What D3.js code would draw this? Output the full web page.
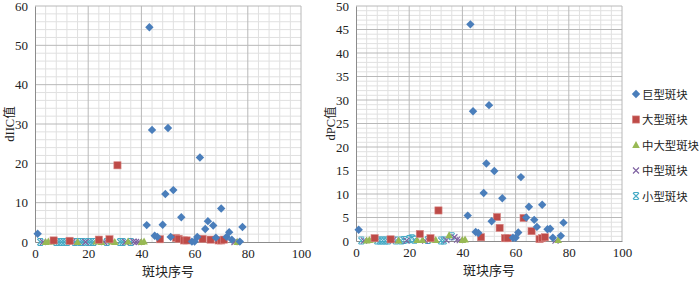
<!DOCTYPE html>
<html>
<head>
<meta charset="utf-8">
<script src="https://cdn.jsdelivr.net/npm/d3@7/dist/d3.min.js"></script>
<style>
  body { margin: 0; background: #fff; }
  svg text { font-family: "Liberation Serif", "Noto Sans CJK SC", serif; fill: #222; }
  .cjk { font-family: "Noto Sans CJK SC", sans-serif; }
</style>
</head>
<body>
<div id="chart"></div>
<script>
// Data: patch id -> value, per patch class
const seriesNames = ['巨型斑块', '大型斑块', '中大型斑块', '中型斑块', '小型斑块']

const giantIds = [1, 42, 43, 44, 45, 46, 48, 49, 50, 51, 52, 55, 59, 60, 61, 62, 64, 65, 67, 68, 70, 72, 73, 74, 77, 78]
const giantIIC = [2.1, 4.3, 54.6, 28.5, 1.6, 1.3, 4.4, 12.2, 29.0, 1.3, 13.2, 6.3, 0.1, 0.1, 1.3, 21.5, 3.3, 5.3, 4.2, 1.1, 8.5, 1.3, 2.5, 0.6, 0.1, 3.8]
const giantPC = [2.4, 5.4, 46.1, 27.6, 1.9, 1.7, 10.2, 16.5, 28.9, 4.2, 14.9, 9.1, 0.7, 0.7, 1.8, 13.6, 5.0, 7.3, 4.5, 3.0, 7.7, 2.5, 2.6, 0.7, 1.1, 3.9]

const largeIds = [7, 13, 24, 28, 31, 47, 53, 54, 56, 57, 63, 66, 69, 70, 71]
const largeIIC = [0.4, 0.3, 0.6, 0.7, 19.5, 0.7, 1.0, 0.8, 0.4, 0.4, 0.8, 0.6, 0.4, 0.4, 0.6]
const largePC = [0.6, 0.35, 1.5, 0.6, 6.5, 0.8, 5.1, 2.8, 0.6, 0.6, 4.9, 2.1, 0.4, 0.6, 0.8]

const medLargeIds = [4, 5, 6, 16, 23, 25, 29, 30, 35, 40, 41, 76]
const medLargeIIC = [0, 0.1, 0.1, 0, 0.1, 0, 0.1, 0, 0.1, 0, 0.1, 0]
const medLargePC = [0.1, 0.2, 0.3, 0.1, 0.2, 0.2, 0.3, 0.2, 1.2, 0.2, 0.3, 0.2]

const mediumIds = [3, 14, 19, 26, 34, 37, 38, 39, 75]
const mediumIIC = [0, 0, 0, 0, 0, 0.1, 0, 0, 0]
const mediumPC = [0.1, 0.2, 0.1, 0.1, 0.2, 0.8, 0.3, 0.2, 0.1]

const smallIds = [2, 8, 9, 10, 11, 12, 15, 17, 18, 20, 21, 22, 27, 32, 33, 36]
const smallIIC = [0, 0, 0, 0, 0, 0, 0, 0, 0, 0, 0, 0, 0, 0, 0, 0]
const smallPC = [0.1, 0.1, 0.1, 0.1, 0.1, 0.1, 0.1, 0.1, 0.2, 0.4, 0.6, 0.3, 0.2, 0.1, 0.1, 1.0]

const xTicks = [0, 20, 40, 60, 80, 100]
const iicTicks = [0, 10, 20, 30, 40, 50, 60]
const pcTicks = [0, 5, 10, 15, 20, 25, 30, 35, 40, 45, 50]

const colors = ['#4a7ebb', '#be4b48', '#98b954', '#7d60a0', '#46aac5']
const shapes = ['diamond', 'square', 'triangle', 'x', 'star']

const zip = (ids, vals) => ids.map((id, i) => ({ x: id, y: vals[i] }))

const iicSeries = [
  zip(giantIds, giantIIC), zip(largeIds, largeIIC), zip(medLargeIds, medLargeIIC),
  zip(mediumIds, mediumIIC), zip(smallIds, smallIIC)
]
const pcSeries = [
  zip(giantIds, giantPC), zip(largeIds, largePC), zip(medLargeIds, medLargePC),
  zip(mediumIds, mediumPC), zip(smallIds, smallPC)
]

const svg = d3.select('#chart')
  .append('svg')
  .attr('width', 700)
  .attr('height', 281)

function marker(g, shape, color) {
  if (shape === 'diamond') {
    g.append('path').attr('d', 'M0,-4.2L4.2,0L0,4.2L-4.2,0Z').attr('fill', color)
  } else if (shape === 'square') {
    g.append('rect').attr('x', -3.6).attr('y', -3.6).attr('width', 7.2).attr('height', 7.2)
      .attr('fill', color).attr('stroke', '#d98a88').attr('stroke-width', 0.6)
  } else if (shape === 'triangle') {
    g.append('path').attr('d', 'M0,-4L3.8,3L-3.8,3Z').attr('fill', color)
  } else if (shape === 'x') {
    g.append('path').attr('d', 'M-3,-3L3,3M3,-3L-3,3').attr('stroke', color).attr('stroke-width', 1.1)
  } else {
    g.append('path').attr('d', 'M-3,-3L3,3M3,-3L-3,3M-2.5,-3.5H2.5M-2.5,3.5H2.5')
      .attr('stroke', color).attr('stroke-width', 1.1)
  }
}

function drawPanel(opt) {
  const x = d3.scaleLinear().domain([0, 100]).range([opt.left, opt.right])
  const y = d3.scaleLinear().domain([0, opt.yMax]).range([opt.bottom, opt.top])

  const g = svg.append('g')

  // minor grid
  g.append('g').selectAll('line')
    .data(d3.range(0, 101, 4).filter(v => v % 20 !== 0))
    .join('line')
    .attr('x1', d => x(d)).attr('x2', d => x(d))
    .attr('y1', opt.top).attr('y2', opt.bottom)
    .attr('stroke', '#e0e0e0')
  g.append('g').selectAll('line')
    .data(d3.range(0, opt.yMax + 0.001, opt.yMinor).filter(v => Math.abs(v / opt.yMajor - Math.round(v / opt.yMajor)) > 0.01))
    .join('line')
    .attr('x1', opt.left).attr('x2', opt.right)
    .attr('y1', d => y(d)).attr('y2', d => y(d))
    .attr('stroke', '#e0e0e0')

  // major grid
  g.append('g').selectAll('line')
    .data(xTicks.slice(1))
    .join('line')
    .attr('x1', d => x(d)).attr('x2', d => x(d))
    .attr('y1', opt.top).attr('y2', opt.bottom)
    .attr('stroke', '#b8b8b8')
  g.append('g').selectAll('line')
    .data(opt.yTicks.slice(1))
    .join('line')
    .attr('x1', opt.left).attr('x2', opt.right)
    .attr('y1', d => y(d)).attr('y2', d => y(d))
    .attr('stroke', '#b8b8b8')

  // axes
  const xAxis = g.append('g')
    .attr('transform', `translate(0,${opt.bottom})`)
    .call(d3.axisBottom(x).tickValues(xTicks).tickSize(0).tickPadding(7))
  const yAxis = g.append('g')
    .attr('transform', `translate(${opt.left},0)`)
    .call(d3.axisLeft(y).tickValues(opt.yTicks).tickSize(0).tickPadding(7))
  ;[xAxis, yAxis].forEach(a => {
    a.select('.domain').attr('stroke', '#8c8c8c')
    a.selectAll('text').attr('font-size', 13).attr('font-family', '"Liberation Serif", serif').attr('fill', '#222')
  })

  g.append('text')
    .attr('class', 'cjk')
    .attr('x', (opt.left + opt.right) / 2)
    .attr('y', opt.bottom + 34)
    .attr('text-anchor', 'middle')
    .attr('font-size', 13)
    .text('斑块序号')

  g.append('text')
    .attr('transform', `translate(${opt.titleX},${(opt.top + opt.bottom) / 2}) rotate(-90)`)
    .attr('text-anchor', 'middle')
    .attr('font-size', 12.5)
    .call(t => {
      t.append('tspan').text(opt.yTitle)
      t.append('tspan').attr('class', 'cjk').text('值')
    })

  // points, small classes first so giants sit on top
  opt.series.slice().reverse().forEach((s, ri) => {
    const si = opt.series.length - 1 - ri
    g.append('g').selectAll('g')
      .data(s)
      .join('g')
      .attr('transform', d => `translate(${x(d.x)},${y(d.y)})`)
      .each(function () { marker(d3.select(this), shapes[si], colors[si]) })
  })
}

drawPanel({ left: 35, right: 301, top: 6, bottom: 242, yMax: 60, yMajor: 10, yMinor: 2,
  yTicks: iicTicks, series: iicSeries, yTitle: 'dIIC', titleX: 14 })
drawPanel({ left: 356, right: 622, top: 6, bottom: 241, yMax: 50, yMajor: 5, yMinor: 1,
  yTicks: pcTicks, series: pcSeries, yTitle: 'dPC', titleX: 335 })

// legend
const legend = svg.append('g').selectAll('g')
  .data(seriesNames)
  .join('g')
  .attr('transform', (d, i) => `translate(636,${94 + i * 25.5})`)
legend.each(function (d, i) { marker(d3.select(this), shapes[i], colors[i]) })
legend.append('text')
  .attr('class', 'cjk')
  .attr('x', 6)
  .attr('y', 4.5)
  .attr('font-size', 11.4)
  .text(d => d)
</script>
</body>
</html>
